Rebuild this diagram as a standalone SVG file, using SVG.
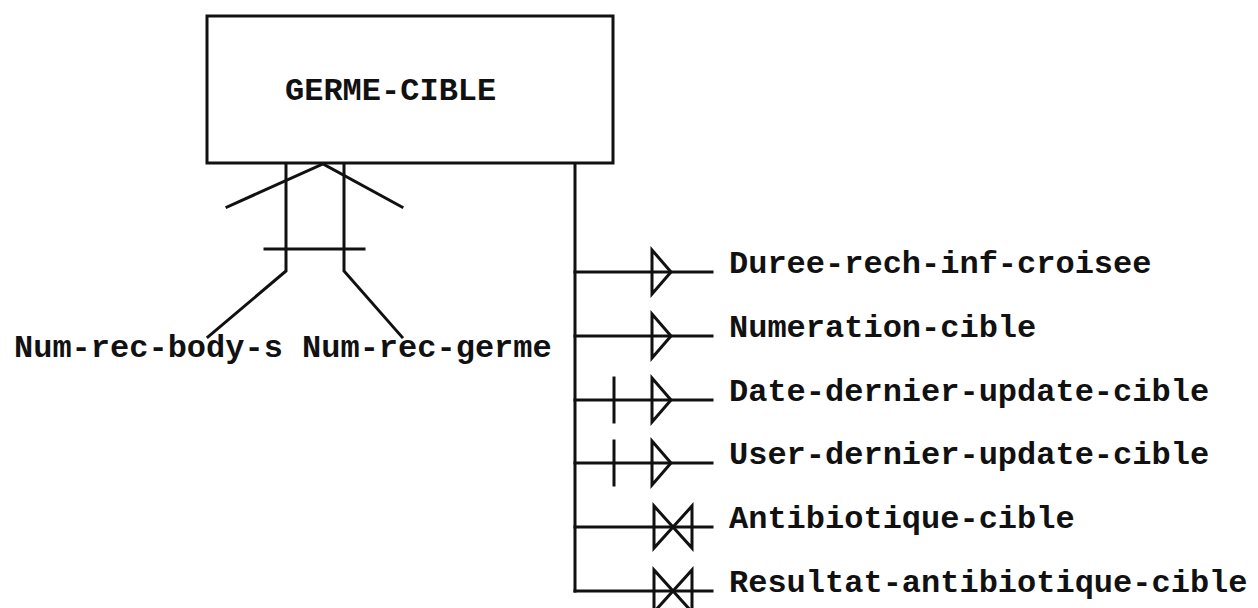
<svg xmlns="http://www.w3.org/2000/svg" width="1258" height="608" viewBox="0 0 1258 608">
<style>
.ln{stroke:#111;stroke-width:3;fill:none;stroke-linecap:square}
.t{font-family:"Liberation Mono","DejaVu Sans Mono",monospace;font-weight:bold;font-size:32px;fill:#111}
</style>
<defs>
<g id="tri"><path class="ln" d="M652,-22 L652,22 L671,0 Z"/></g>
<g id="bow"><path class="ln" d="M654,-21 L654,21 L692,-21 L692,21 Z"/></g>
<g id="bar"><line class="ln" x1="614" y1="-22" x2="614" y2="22"/></g>
</defs>
<rect width="1258" height="608" fill="#fff"/>
<g id="germe-cible">
<rect class="ln" x="207" y="16" width="406" height="147"/>
<text class="t" x="285" y="100">GERME-CIBLE</text>
</g>
<g id="identifiers">
<text class="t" x="14" y="357">Num-rec-body-s Num-rec-germe</text>
</g>
<g id="attributes">
<text class="t" x="729" y="273">Duree-rech-inf-croisee</text>
<text class="t" x="729" y="337">Numeration-cible</text>
<text class="t" x="729" y="401">Date-dernier-update-cible</text>
<text class="t" x="729" y="464">User-dernier-update-cible</text>
<text class="t" x="729" y="528">Antibiotique-cible</text>
<text class="t" x="729" y="592">Resultat-antibiotique-cible</text>
</g>
<g id="connectors">
<polyline class="ln" points="286,164 286,271 208,337"/>
<polyline class="ln" points="344,164 344,271 402,337"/>
<polyline class="ln" points="227,207 323,164 402,207"/>
<line class="ln" x1="265" y1="249" x2="364" y2="249"/>
<line class="ln" x1="575" y1="164" x2="575" y2="591"/>
<line class="ln" x1="575" y1="272" x2="712" y2="272"/>
<line class="ln" x1="575" y1="336" x2="712" y2="336"/>
<line class="ln" x1="575" y1="400" x2="712" y2="400"/>
<line class="ln" x1="575" y1="463" x2="712" y2="463"/>
<line class="ln" x1="575" y1="527" x2="712" y2="527"/>
<line class="ln" x1="575" y1="591" x2="712" y2="591"/>
<use href="#tri" y="272"/>
<use href="#tri" y="336"/>
<use href="#tri" y="400"/>
<use href="#tri" y="463"/>
<use href="#bar" y="400"/>
<use href="#bar" y="463"/>
<use href="#bow" y="527"/>
<use href="#bow" y="591"/>
</g>
</svg>
